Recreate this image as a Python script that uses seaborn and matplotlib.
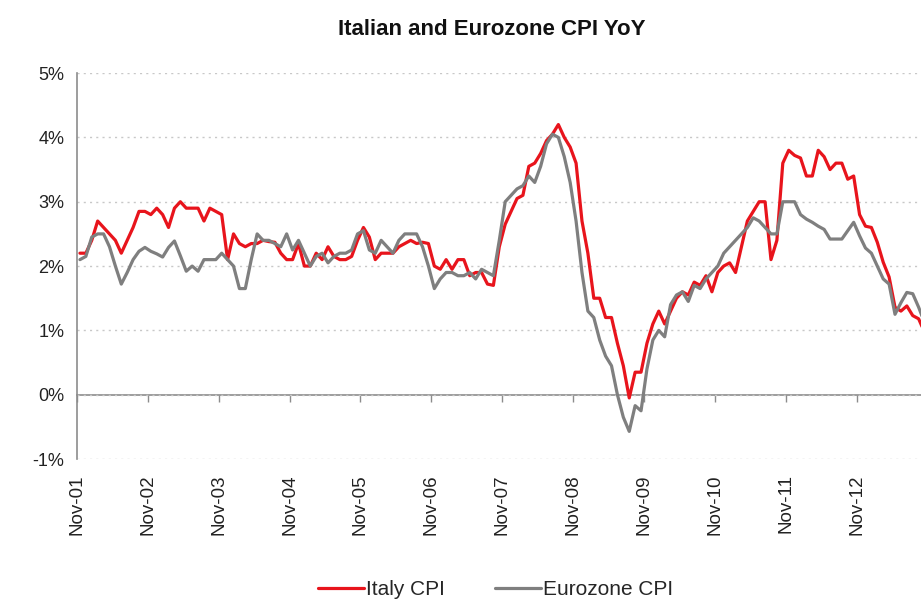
import numpy as np
import pandas as pd
from matplotlib import pyplot as plt
import seaborn as sns

sns.set_style('white')
plt.rcParams['font.family'] = ['Liberation Sans', 'DejaVu Sans']

# monthly YoY %, starting Nov-01
italy = [2.2, 2.2, 2.4, 2.7, 2.6, 2.5, 2.4, 2.2, 2.4, 2.6, 2.85, 2.85,
         2.8, 2.9, 2.8, 2.6, 2.9, 3.0, 2.9, 2.9, 2.9, 2.7, 2.9, 2.85,
         2.8, 2.1, 2.5, 2.35, 2.3, 2.35, 2.35, 2.4, 2.38, 2.37, 2.2, 2.1,
         2.1, 2.35, 2.0, 2.0, 2.2, 2.1, 2.3, 2.15, 2.1, 2.1, 2.15, 2.4,
         2.6, 2.45, 2.1, 2.2, 2.2, 2.2, 2.3, 2.35, 2.4, 2.35, 2.37, 2.35,
         2.0, 1.95, 2.1, 1.95, 2.1, 2.1, 1.85, 1.9, 1.9, 1.72, 1.7, 2.3,
         2.65, 2.85, 3.05, 3.1, 3.55, 3.6, 3.75, 3.95, 4.05, 4.2, 4.0, 3.85,
         3.6, 2.7, 2.2, 1.5, 1.5, 1.2, 1.2, 0.8, 0.45, -0.05, 0.35, 0.35,
         0.8, 1.1, 1.3, 1.1, 1.3, 1.5, 1.6, 1.55, 1.75, 1.7, 1.85, 1.6,
         1.9, 2.0, 2.05, 1.9, 2.3, 2.7, 2.85, 3.0, 3.0, 2.1, 2.4, 3.6,
         3.8, 3.72, 3.68, 3.4, 3.4, 3.8, 3.7, 3.5, 3.6, 3.6, 3.35, 3.4,
         2.8, 2.62, 2.6, 2.37, 2.06, 1.83, 1.36, 1.3, 1.38, 1.23, 1.18, 0.97,
         0.75]
eurozone = [2.1, 2.15, 2.45, 2.5, 2.5, 2.3, 2.0, 1.72, 1.9, 2.1, 2.23, 2.29,
            2.23, 2.19, 2.14, 2.29, 2.39, 2.16, 1.92, 2.0, 1.92, 2.1, 2.1, 2.1,
            2.2, 2.1, 2.0, 1.65, 1.65, 2.1, 2.5, 2.4, 2.4, 2.35, 2.3, 2.5,
            2.25, 2.4, 2.2, 2.0, 2.15, 2.2, 2.05, 2.15, 2.2, 2.2, 2.25, 2.5,
            2.55, 2.25, 2.2, 2.4, 2.3, 2.2, 2.4, 2.5, 2.5, 2.5, 2.3, 2.0,
            1.65, 1.8, 1.9, 1.9, 1.85, 1.85, 1.9, 1.8, 1.95, 1.9, 1.85, 2.4,
            3.0, 3.1, 3.2, 3.25, 3.4, 3.3, 3.55, 3.9, 4.05, 4.0, 3.7, 3.3,
            2.7, 1.9, 1.3, 1.2, 0.85, 0.6, 0.45, 0.0, -0.35, -0.57, -0.17, -0.25,
            0.4, 0.85, 1.0, 0.9, 1.4, 1.55, 1.6, 1.45, 1.7, 1.65, 1.8, 1.9,
            2.0, 2.2, 2.3, 2.4, 2.5, 2.6, 2.75, 2.7, 2.6, 2.5, 2.5, 3.0,
            3.0, 3.0, 2.8, 2.73, 2.68, 2.62, 2.57, 2.42, 2.42, 2.42, 2.55, 2.68,
            2.47, 2.28, 2.2, 2.0, 1.8, 1.72, 1.25, 1.43, 1.59, 1.57, 1.36, 1.12,
            0.96]
tick_labels = ['Nov-01', 'Nov-02', 'Nov-03', 'Nov-04', 'Nov-05', 'Nov-06',
               'Nov-07', 'Nov-08', 'Nov-09', 'Nov-10', 'Nov-11', 'Nov-12']
y_ticks = [-1, 0, 1, 2, 3, 4, 5]

df = pd.DataFrame({'month': np.arange(len(italy)) + 0.5,
                   'Italy CPI': italy, 'Eurozone CPI': eurozone})

red = '#e8141c'
grey = '#7f7f7f'
axis_grey = '#8c8c8c'

fig = plt.figure(figsize=(9.21, 6.04), dpi=100)
ax = fig.add_axes([0.0836, 0.24, 0.9164, 0.639])

sns.lineplot(data=df, x='month', y='Italy CPI', color=red, lw=2.3,
             label='Italy CPI', ax=ax, legend=False)
sns.lineplot(data=df, x='month', y='Eurozone CPI', color=grey, lw=2.3,
             label='Eurozone CPI', ax=ax, legend=False)

ax.set_xlim(0, 142.9)
ax.set_ylim(-1, 5)
ax.set_yticks(y_ticks)
ax.set_yticklabels([f'{v}%' for v in y_ticks])
tick_pos = [12 * k for k in range(len(tick_labels))]
ax.set_xticks(tick_pos)
ax.set_xticklabels(tick_labels, rotation=90)
ax.tick_params(axis='x', length=0, pad=11, labelsize=13.5, labelcolor='#222222')
ax.tick_params(axis='y', direction='in', length=5, color=axis_grey,
               labelsize=13, labelcolor='#222222', pad=9)
ax.set_xlabel('')
ax.set_ylabel('')

ax.yaxis.grid(True, color='#c8c8c8', linestyle=(0, (1.5, 3)), lw=1)
ax.xaxis.grid(False)
for s in ['top', 'right', 'bottom']:
    ax.spines[s].set_visible(False)
ax.spines['left'].set_color(axis_grey)
ax.spines['left'].set_linewidth(1.2)

# zero line carrying the x tick marks
zero = ax.secondary_xaxis(1 / 6)
zero.set_xticks(tick_pos)
zero.set_xticklabels([])
zero.tick_params(length=5, direction='out', color=axis_grey, width=1)
zero.spines['bottom'].set_color(axis_grey)
zero.spines['bottom'].set_linewidth(1.2)

fig.suptitle('Italian and Eurozone CPI YoY', x=0.534, y=0.968,
             fontsize=16, fontweight='bold', color='#111111')

handles, labels = ax.get_legend_handles_labels()
fig.legend(handles, labels, loc='center', bbox_to_anchor=(0.538, 0.024),
           ncol=2, frameon=False, fontsize=15, handlelength=2.2,
           handletextpad=0.1, columnspacing=2.4)

plt.savefig('out.png', dpi=100)
